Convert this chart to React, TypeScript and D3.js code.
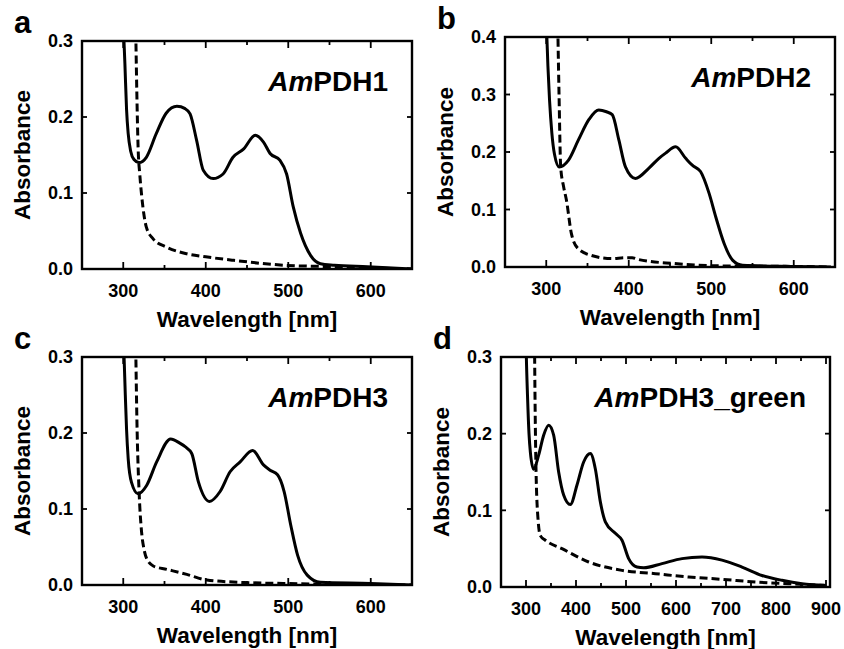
import React from 'react';
import * as d3 from 'd3';

// absorbance spectra, [wavelength nm, absorbance]
const pdh1Solid: [number, number][] = [
  [298, 0.38], [300.5, 0.31], [302, 0.27], [304, 0.21], [306, 0.178], [309, 0.155], [313, 0.144],
  [319, 0.14], [328, 0.147], [340, 0.178], [352, 0.205], [365, 0.214], [375, 0.211], [381, 0.204],
  [389, 0.169], [397, 0.13], [409, 0.119], [421, 0.125], [433, 0.147], [446, 0.158], [460, 0.176],
  [470, 0.167], [478, 0.152], [490, 0.143], [498, 0.125], [506, 0.082], [515, 0.047], [527, 0.018],
  [539, 0.007], [556, 0.005], [596, 0.003], [650, 0.0],
];
const pdh1Dashed: [number, number][] = [
  [314.5, 0.36], [315.5, 0.29], [316.5, 0.23], [318, 0.16], [320, 0.125], [322, 0.1], [325, 0.072],
  [328, 0.055], [336, 0.04], [352, 0.029], [377, 0.02], [400, 0.016], [434, 0.0114], [494, 0.005],
  [556, 0.003], [650, 0.0],
];

const pdh2Solid: [number, number][] = [
  [298, 0.48], [300.5, 0.41], [302, 0.35], [304, 0.29], [306.8, 0.233], [310, 0.196], [315.7, 0.174],
  [327, 0.186], [339, 0.221], [352, 0.257], [363.6, 0.273], [373, 0.27], [380, 0.265], [388, 0.221],
  [396, 0.174], [408, 0.154], [424.5, 0.172], [436.6, 0.189], [444.7, 0.198], [456.8, 0.209],
  [469, 0.189], [477, 0.177], [487, 0.166], [497.4, 0.128], [505.5, 0.087], [515.6, 0.041],
  [525.8, 0.012], [538, 0.003], [600, 0.001], [645, 0.0],
];
const pdh2Dashed: [number, number][] = [
  [313.5, 0.46], [314.2, 0.4], [315.5, 0.3], [317.5, 0.174], [321, 0.14], [324.5, 0.116],
  [330.5, 0.058], [338.6, 0.032], [355, 0.02], [379, 0.0146], [396, 0.016], [404, 0.016], [412, 0.013],
  [455, 0.006], [509, 0.002], [600, 0.001], [645, 0.0],
];

const pdh3Solid: [number, number][] = [
  [298, 0.38], [301, 0.3], [302.5, 0.25], [304, 0.205], [306, 0.166], [310, 0.135], [318, 0.12],
  [328.3, 0.131], [340.5, 0.162], [357.5, 0.192], [368, 0.187], [375, 0.182], [383, 0.173],
  [391, 0.136], [404.4, 0.11], [417.4, 0.123], [429.5, 0.149], [441.7, 0.162], [456.8, 0.177],
  [470, 0.158], [478, 0.151], [487, 0.145], [495, 0.123], [503, 0.079], [511.4, 0.039], [523, 0.013],
  [539, 0.0035], [600, 0.002], [650, 0.0],
];
const pdh3Dashed: [number, number][] = [
  [314.5, 0.36], [315.3, 0.3], [316.5, 0.22], [319.4, 0.118], [322.2, 0.07], [325, 0.048],
  [328.3, 0.035], [336.4, 0.025], [352.7, 0.0206], [377, 0.014], [401.3, 0.0066], [454, 0.003],
  [494, 0.002], [650, 0.0],
];

const greenSolid: [number, number][] = [
  [298, 0.4], [300.7, 0.3], [303, 0.25], [306, 0.2], [308.7, 0.176], [315.3, 0.1535], [325.3, 0.172],
  [335.3, 0.198], [345.3, 0.211], [355.3, 0.198], [365.3, 0.15], [375.3, 0.12], [388.7, 0.1075],
  [402, 0.133], [415.3, 0.163], [428.7, 0.174], [438.7, 0.154], [448.7, 0.111], [458.7, 0.085],
  [478.7, 0.07], [492, 0.061], [505.3, 0.037], [522, 0.026], [535.3, 0.025], [572, 0.0305],
  [612, 0.037], [652, 0.039], [692, 0.035], [732, 0.026], [772, 0.015], [812, 0.0087],
  [852, 0.0043], [899, 0.002],
];
const greenDashed: [number, number][] = [
  [316.5, 0.38], [317.3, 0.3], [318.5, 0.22], [320, 0.154], [324, 0.089], [328.7, 0.067],
  [338.7, 0.061], [372, 0.05], [425.3, 0.0326], [492, 0.0217], [558.7, 0.0174], [625.3, 0.013],
  [692, 0.01], [758.7, 0.0065], [825, 0.0043], [899, 0.002],
];

const xTicksVis = [300, 400, 500, 600];
const xTicksNir = [300, 400, 500, 600, 700, 800, 900];
const yTicks3 = [0, 0.1, 0.2, 0.3];
const yTicks4 = [0, 0.1, 0.2, 0.3, 0.4];

const FONT = '"Liberation Sans", Arial, sans-serif';

type PanelProps = {
  id: string;
  letter: string;
  name: string;
  left: number;
  top: number;
  right: number;
  bottom: number;
  xMax: number;
  yMax: number;
  xTicks: number[];
  yTicks: number[];
  solid: [number, number][];
  dashed: [number, number][];
};

const Panel = (p: PanelProps) => {
  const x = d3.scaleLinear().domain([250, p.xMax]).range([p.left, p.right]);
  const y = d3.scaleLinear().domain([0, p.yMax]).range([p.bottom, p.top]);
  const line = d3
    .line<[number, number]>()
    .x((d) => x(d[0]))
    .y((d) => y(d[1]))
    .curve(d3.curveMonotoneX);

  const minor = d3.range(300, p.xMax + 1, 50).filter((t) => t % 100 !== 0);
  const suffix = p.name.slice(2);

  return (
    <g>
      <defs>
        <clipPath id={`clip-${p.id}`}>
          <rect x={p.left} y={p.top} width={p.right - p.left} height={p.bottom - p.top} />
        </clipPath>
      </defs>
      <g clipPath={`url(#clip-${p.id})`} fill="none" stroke="#000" strokeWidth={3}>
        <path d={line(p.dashed) || ''} strokeDasharray="8,4" />
        <path d={line(p.solid) || ''} />
      </g>
      {/* ticks inside the frame on all sides */}
      <g stroke="#000" strokeWidth={1.8}>
        {p.xTicks.map((t) => (
          <g key={`xt${t}`}>
            <line x1={x(t)} x2={x(t)} y1={p.bottom} y2={p.bottom - 7} />
            <line x1={x(t)} x2={x(t)} y1={p.top} y2={p.top + 7} />
          </g>
        ))}
        {minor.map((t) => (
          <g key={`xm${t}`}>
            <line x1={x(t)} x2={x(t)} y1={p.bottom} y2={p.bottom - 4} />
            <line x1={x(t)} x2={x(t)} y1={p.top} y2={p.top + 4} />
          </g>
        ))}
        {p.yTicks.map((t) => (
          <g key={`yt${t}`}>
            <line x1={p.left} x2={p.left + 5} y1={y(t)} y2={y(t)} />
            <line x1={p.right} x2={p.right - 5} y1={y(t)} y2={y(t)} />
          </g>
        ))}
      </g>
      <rect
        x={p.left}
        y={p.top}
        width={p.right - p.left}
        height={p.bottom - p.top}
        fill="none"
        stroke="#000"
        strokeWidth={2.4}
      />
      <g fontFamily={FONT} fontWeight="bold" fontSize={18} fill="#000">
        {p.xTicks.map((t) => (
          <text key={`xl${t}`} x={x(t)} y={p.bottom + 28} textAnchor="middle">
            {t}
          </text>
        ))}
        {p.yTicks.map((t) => (
          <text key={`yl${t}`} x={p.left - 9} y={y(t)} dy="0.35em" textAnchor="end">
            {t.toFixed(1)}
          </text>
        ))}
      </g>
      <g fontFamily={FONT} fontWeight="bold" fontSize={22.5} fill="#000">
        <text x={(p.left + p.right) / 2} y={p.bottom + 58} textAnchor="middle">
          Wavelength [nm]
        </text>
        <text
          transform={`translate(${p.left - 52},${(p.top + p.bottom) / 2}) rotate(-90)`}
          textAnchor="middle"
        >
          Absorbance
        </text>
      </g>
      <text x={p.left - 68} y={p.top - 8} fontFamily={FONT} fontWeight="bold" fontSize={31}>
        {p.letter}
      </text>
      <text
        x={p.right - 24}
        y={p.top + 50}
        textAnchor="end"
        fontFamily={FONT}
        fontWeight="bold"
        fontSize={28}
      >
        <tspan fontStyle="italic">Am</tspan>
        {suffix}
      </text>
    </g>
  );
};

export default function App() {
  return (
    <svg
      width={844}
      height={649}
      style={{ position: 'absolute', left: 0, top: 0, background: '#fff' }}
    >
      <Panel id="a" letter="a" name="AmPDH1" left={82} top={41} right={412} bottom={269}
        xMax={650} yMax={0.3} xTicks={xTicksVis} yTicks={yTicks3} solid={pdh1Solid} dashed={pdh1Dashed} />
      <Panel id="b" letter="b" name="AmPDH2" left={505} top={37} right={835} bottom={267}
        xMax={650} yMax={0.4} xTicks={xTicksVis} yTicks={yTicks4} solid={pdh2Solid} dashed={pdh2Dashed} />
      <Panel id="c" letter="c" name="AmPDH3" left={82} top={357} right={412} bottom={585}
        xMax={650} yMax={0.3} xTicks={xTicksVis} yTicks={yTicks3} solid={pdh3Solid} dashed={pdh3Dashed} />
      <Panel id="d" letter="d" name="AmPDH3_green" left={501} top={357} right={830} bottom={587}
        xMax={908} yMax={0.3} xTicks={xTicksNir} yTicks={yTicks3} solid={greenSolid} dashed={greenDashed} />
    </svg>
  );
}
